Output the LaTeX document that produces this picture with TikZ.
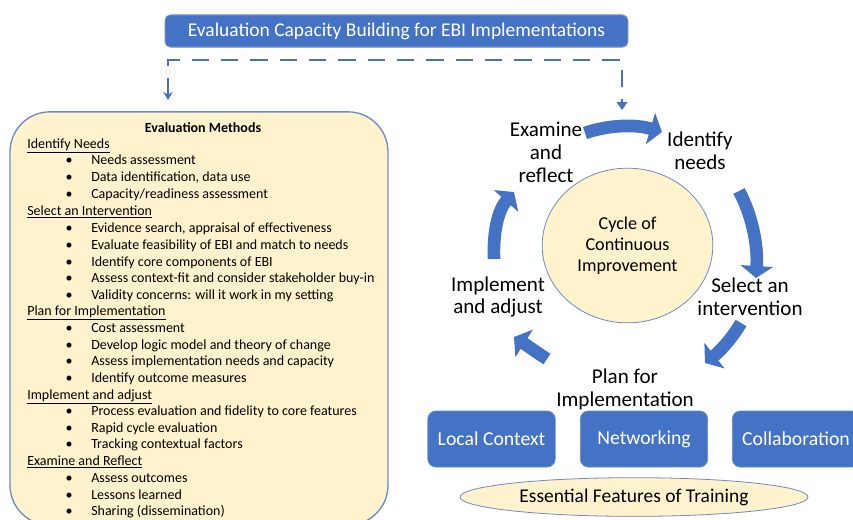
\documentclass[tikz,border=0pt]{standalone}
\usepackage{fontspec}
\setmainfont{Carlito}
\usetikzlibrary{arrows.meta,shapes.geometric}
\definecolor{ebiblue}{HTML}{4472C4}
\definecolor{paleyel}{HTML}{FFF2CC}
\definecolor{edgeblue}{HTML}{6A8CC7}
\begin{document}
\begin{tikzpicture}[x=0.75pt,y=-0.75pt,
  banner/.style={rectangle, rounded corners=4pt, fill=ebiblue, draw=edgeblue, line width=0.8pt,
     text=white, font=\fontsize{14.6}{16}\selectfont, minimum width=347pt, minimum height=24pt, inner sep=0pt},
  methodbox/.style={rectangle, rounded corners=30pt, fill=paleyel, draw=edgeblue, line width=1pt, inner sep=0pt},
  txt/.style={anchor=base west, inner sep=0pt, font=\fontsize{10.5}{12}\selectfont},
  bul/.style={anchor=base, inner sep=0pt, font=\fontsize{10.5}{12}\selectfont},
  lbl/.style={align=center, inner sep=0pt, font=\fontsize{15.8}{17.2}\selectfont},
  bluebox/.style={rectangle, rounded corners=6pt, fill=ebiblue, draw=edgeblue, line width=0.6pt,
     text=white, font=\fontsize{14.8}{16}\selectfont, minimum width=95.5pt, minimum height=42pt, inner sep=0pt},
  cyc/.style={draw=ebiblue, line width=9.5pt, -{Triangle[width=24pt,length=9pt]}},
  dashconn/.style={draw=ebiblue, line width=2.2pt, dash pattern=on 13pt off 9pt}
]
\useasboundingbox (0,0) rectangle (853,519);
\clip (0,0) rectangle (853,519);

% banner
\node[banner] (top) at (396.5,31) {Evaluation Capacity Building for EBI Implementations};

% dashed connector
\coordinate (dl) at (168,100);
\coordinate (dm) at (396,60);
\coordinate (dr) at (622,110);
\draw[dashconn, {Stealth[length=6pt,width=7pt]}-{Triangle[length=6pt,width=8pt]}]
  (dl) |- (dm) -| (dr);

% methods box
\node[methodbox, minimum width=283.5pt, minimum height=310pt] (meth) at (199,318.5) {};
\node[anchor=base, inner sep=0pt, font=\fontsize{10.5}{12}\selectfont\bfseries] (mt) at (203,132) {Evaluation Methods};

\foreach \y/\t [count=\k] in {148/{Identify Needs}, 215/{Select an Intervention},
   315/{Plan for Implementation}, 399/{Implement and adjust}, 465/{Examine and Reflect}}
  { \node[txt] (s\k) at (27,\y) {\underline{\t}}; }

\foreach \y/\t [count=\k] in {
  164/{Needs assessment}, 181/{Data identification, data use}, 198/{Capacity/readiness assessment},
  232/{Evidence search, appraisal of effectiveness}, 249/{Evaluate feasibility of EBI and match to needs},
  266/{Identify core components of EBI}, 282/{Assess context-fit and consider stakeholder buy-in},
  299/{Validity concerns: will it work in my setting},
  332/{Cost assessment}, 349/{Develop logic model and theory of change},
  365/{Assess implementation needs and capacity}, 382/{Identify outcome measures},
  415/{Process evaluation and fidelity to core features}, 432/{Rapid cycle evaluation},
  448/{Tracking contextual factors},
  482/{Assess outcomes}, 499/{Lessons learned}, 515/{Sharing (dissemination)}}
  { \node[bul] (b\k) at (69,\y) {\textbullet};
    \node[txt] (i\k) at (91,\y) {\t}; }

% cycle
\node[ellipse, fill=paleyel, draw=edgeblue, line width=0.6pt, minimum width=128pt, minimum height=116pt,
      align=center, font=\fontsize{13.6}{16}\selectfont, inner sep=0pt] (cci) at (627.5,245.5)
      {Cycle of\\Continuous\\Improvement};

\node[lbl] (exa) at (546,152) {Examine\\and\\reflect};
\node[lbl] (idn) at (700,151) {Identify\\needs};
\node[lbl] (sel) at (750,297) {Select an\\intervention};
\node[lbl] (pla) at (625,389) {Plan for\\Implementation};
\node[lbl] (imp) at (498,297) {Implement\\and adjust};

\coordinate (a1s) at (585,133); \coordinate (a1e) at (662,132);
\coordinate (a2s) at (739,191); \coordinate (a2e) at (756,278);
\coordinate (a3s) at (741,323); \coordinate (a3e) at (705,363);
\coordinate (a4s) at (547,359); \coordinate (a4e) at (514,337);
\coordinate (a5s) at (494,259); \coordinate (a5e) at (514,192);
\draw[cyc] (a1s) .. controls (608,125) and (635,124) .. (a1e);
\draw[cyc] (a2s) .. controls (752,215) and (758,245) .. (a2e);
\draw[cyc] (a3s) .. controls (731,340) and (719,352) .. (a3e);
\draw[cyc] (a4s) .. controls (536,352) and (525,344) .. (a4e);
\draw[cyc] (a5s) .. controls (493,232) and (498,210) .. (a5e);

% bottom
\node[bluebox] (loc) at (491.5,439) {Local Context};
\node[bluebox] (net) at (644,439) {Networking};
\node[bluebox] (col) at (796,439) {Collaboration};
\node[ellipse, fill=paleyel, draw=edgeblue, line width=0.6pt, minimum width=261pt, minimum height=29pt,
      inner sep=0pt, font=\fontsize{14.6}{16}\selectfont] (ess) at (634,497) {Essential Features of Training};
\end{tikzpicture}
\end{document}
